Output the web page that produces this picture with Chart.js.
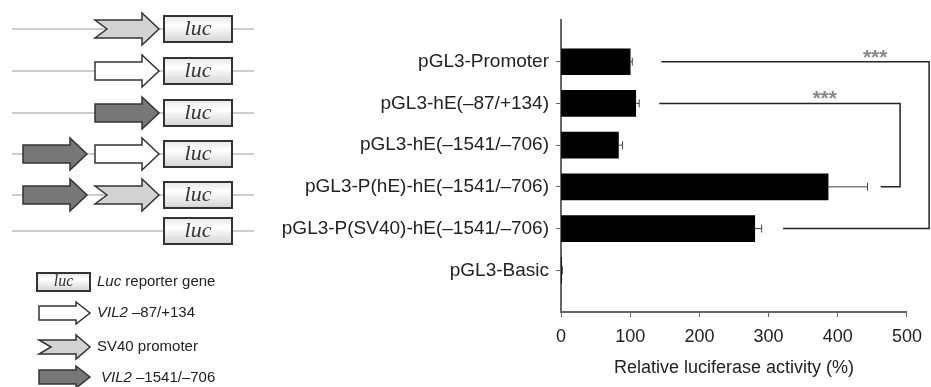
<!DOCTYPE html>
<html>
<head>
<meta charset="utf-8">
<script src="https://cdn.jsdelivr.net/npm/chart.js@4.4.1/dist/chart.umd.min.js"></script>
<style>
    body { margin: 0; background: #fff; }
    #wrap { width: 931px; height: 387px; }
</style>
</head>
<body>
<div id="wrap"><canvas id="lucChart" width="931" height="387"></canvas></div>
<script>
// Values
const categories = [
    'pGL3-Promoter',
    'pGL3-hE(–87/+134)',
    'pGL3-hE(–1541/–706)',
    'pGL3-P(hE)-hE(–1541/–706)',
    'pGL3-P(SV40)-hE(–1541/–706)',
    'pGL3-Basic'
];
const activity = [100, 108, 83, 386, 280, 1];
const errors = [3, 5, 6, 57, 10, 1];
const xTicks = [0, 100, 200, 300, 400, 500];

// significance brackets (row indices, values on the activity axis)
const bracketRows = [[0, 4], [1, 3]];
const bracketStart = [[145, 321], [142, 462]];
const bracketEdge = [532, 490];
const bracketStarAt = [454, 381];

// promoter elements in front of luc, for each construct
const constructs = [
    ['sv40'],
    ['vil87'],
    ['vil1541'],
    ['vil1541', 'vil87'],
    ['vil1541', 'sv40'],
    []
];

const FONT = "'Liberation Sans', Arial, sans-serif";
const elementFill = { sv40: '#d2d2d2', vil87: '#ffffff', vil1541: '#777777' };

function blockArrow(ctx, x0, x1, cy, bodyH, headH, headL, notch, fill) {
    ctx.beginPath();
    ctx.moveTo(x0, cy - bodyH);
    ctx.lineTo(x1 - headL, cy - bodyH);
    ctx.lineTo(x1 - headL, cy - headH);
    ctx.lineTo(x1, cy);
    ctx.lineTo(x1 - headL, cy + headH);
    ctx.lineTo(x1 - headL, cy + bodyH);
    ctx.lineTo(x0, cy + bodyH);
    if (notch) ctx.lineTo(x0 + notch, cy);
    ctx.closePath();
    ctx.fillStyle = fill;
    ctx.fill();
    ctx.lineWidth = 1.5;
    ctx.strokeStyle = '#333';
    ctx.stroke();
}

function lucBox(ctx, x0, x1, cy, h, size) {
    const g = ctx.createLinearGradient(0, cy - h, 0, cy + h);
    g.addColorStop(0, '#e6e6e6');
    g.addColorStop(0.35, '#ffffff');
    g.addColorStop(1, '#d4d4d4');
    ctx.fillStyle = g;
    ctx.fillRect(x0, cy - h, x1 - x0, 2 * h);
    ctx.lineWidth = 2;
    ctx.strokeStyle = '#333';
    ctx.strokeRect(x0, cy - h, x1 - x0, 2 * h);
    ctx.fillStyle = '#333';
    ctx.font = 'italic ' + size + "px 'Liberation Serif', 'DejaVu Serif', serif";
    ctx.textAlign = 'center';
    ctx.textBaseline = 'middle';
    ctx.fillText('luc', (x0 + x1) / 2, cy);
}

function element(ctx, kind, x0, x1, cy, bodyH, headH, headL) {
    const notch = kind === 'sv40' ? 12 : 0;
    blockArrow(ctx, x0, x1, cy, bodyH, headH, headL, notch, elementFill[kind]);
}

// constructs schematic and legend on the left
const schematicPlugin = {
    id: 'schematic',
    afterDraw(chart) {
        const ctx = chart.ctx;
        const rowY = [29, 71, 113, 154, 195, 231];
        ctx.save();
        constructs.forEach((parts, i) => {
            const cy = rowY[i];
            ctx.beginPath();
            ctx.moveTo(12, cy);
            ctx.lineTo(254, cy);
            ctx.lineWidth = 1;
            ctx.strokeStyle = '#999';
            ctx.stroke();
            const slots = parts.length === 2 ? [[23, 87], [95, 159]] : [[95, 159]];
            parts.forEach((p, j) => element(ctx, p, slots[j][0], slots[j][1], cy, 9, 16, 17));
            lucBox(ctx, 164, 232, cy, 13, 22);
        });

        // legend
        lucBox(ctx, 37, 90, 282, 9, 16);
        element(ctx, 'vil87', 39, 90, 313, 7, 11, 14);
        element(ctx, 'sv40', 39, 90, 347, 7, 12, 14);
        element(ctx, 'vil1541', 39, 90, 377, 7, 11, 14);

        const items = [
            [282, 97, 'Luc', ' reporter gene'],
            [313, 97, 'VIL2', ' –87/+134'],
            [347, 97, '', 'SV40 promoter'],
            [378, 101, 'VIL2', ' –1541/–706']
        ];
        ctx.fillStyle = '#222';
        ctx.textAlign = 'left';
        ctx.textBaseline = 'middle';
        items.forEach(([y, x, it, rest]) => {
            ctx.font = 'italic 15px ' + FONT;
            ctx.fillText(it, x, y);
            const w = ctx.measureText(it).width;
            ctx.font = '15px ' + FONT;
            ctx.fillText(rest, x + w, y);
        });
        ctx.restore();
    }
};

// error bars and significance brackets
const annotatePlugin = {
    id: 'annotate',
    afterDatasetsDraw(chart) {
        const ctx = chart.ctx;
        const xs = chart.scales.x, ys = chart.scales.y;
        ctx.save();
        ctx.strokeStyle = '#444';
        ctx.lineWidth = 1;
        activity.forEach((v, i) => {
            const y = ys.getPixelForValue(i);
            const a = xs.getPixelForValue(v), b = xs.getPixelForValue(v + errors[i]);
            ctx.beginPath();
            ctx.moveTo(a, y); ctx.lineTo(b, y);
            ctx.moveTo(b, y - 4); ctx.lineTo(b, y + 4);
            ctx.stroke();
        });

        ctx.strokeStyle = '#222';
        ctx.lineWidth = 1.5;
        bracketRows.forEach(([r0, r1], k) => {
            const y0 = ys.getPixelForValue(r0), y1 = ys.getPixelForValue(r1);
            const xe = xs.getPixelForValue(bracketEdge[k]);
            ctx.beginPath();
            ctx.moveTo(xs.getPixelForValue(bracketStart[k][0]), y0);
            ctx.lineTo(xe, y0);
            ctx.lineTo(xe, y1);
            ctx.lineTo(xs.getPixelForValue(bracketStart[k][1]), y1);
            ctx.stroke();
            ctx.fillStyle = '#888';
            ctx.font = 'bold 21px ' + FONT;
            ctx.textAlign = 'center';
            ctx.textBaseline = 'middle';
            ctx.fillText('***', xs.getPixelForValue(bracketStarAt[k]), y0 - 4);
        });
        ctx.restore();
    }
};

const ctx = document.getElementById('lucChart').getContext('2d');
new Chart(ctx, {
    type: 'bar',
    data: {
        datasets: [{
            data: activity.map((v, i) => ({ x: v, y: i })),
            backgroundColor: '#000',
            borderWidth: 0,
            barThickness: 26
        }]
    },
    options: {
        indexAxis: 'y',
        responsive: false,
        animation: false,
        layout: { padding: { top: 20, right: 24, left: 0, bottom: 0 } },
        plugins: {
            legend: { display: false },
            tooltip: { enabled: false }
        },
        scales: {
            x: {
                type: 'linear',
                min: 0,
                max: 500,
                afterBuildTicks: s => { s.ticks = xTicks.map(v => ({ value: v })); },
                afterFit: s => { s.height = 75; },
                grid: { drawOnChartArea: false, drawTicks: true, tickLength: 5, color: '#666' },
                border: { display: true, color: '#666', width: 2 },
                ticks: { color: '#222', font: { family: FONT, size: 18 }, padding: 9, maxRotation: 0 },
                title: {
                    display: true,
                    text: 'Relative luciferase activity (%)',
                    color: '#222',
                    font: { family: FONT, size: 18 },
                    padding: { top: 0, bottom: 8 }
                }
            },
            y: {
                type: 'linear',
                min: -1,
                max: 6,
                reverse: true,
                offset: false,
                afterBuildTicks: s => { s.ticks = categories.map((c, i) => ({ value: i })); },
                afterFit: s => { s.width = 561; },
                grid: { offset: false, drawOnChartArea: false, drawTicks: true, tickLength: 5, color: '#666' },
                border: { display: true, color: '#666', width: 2 },
                ticks: {
                    color: '#222',
                    font: { family: FONT, size: 19 },
                    padding: 7,
                    callback: v => categories[v]
                }
            }
        }
    },
    plugins: [schematicPlugin, annotatePlugin]
});
</script>
</body>
</html>
